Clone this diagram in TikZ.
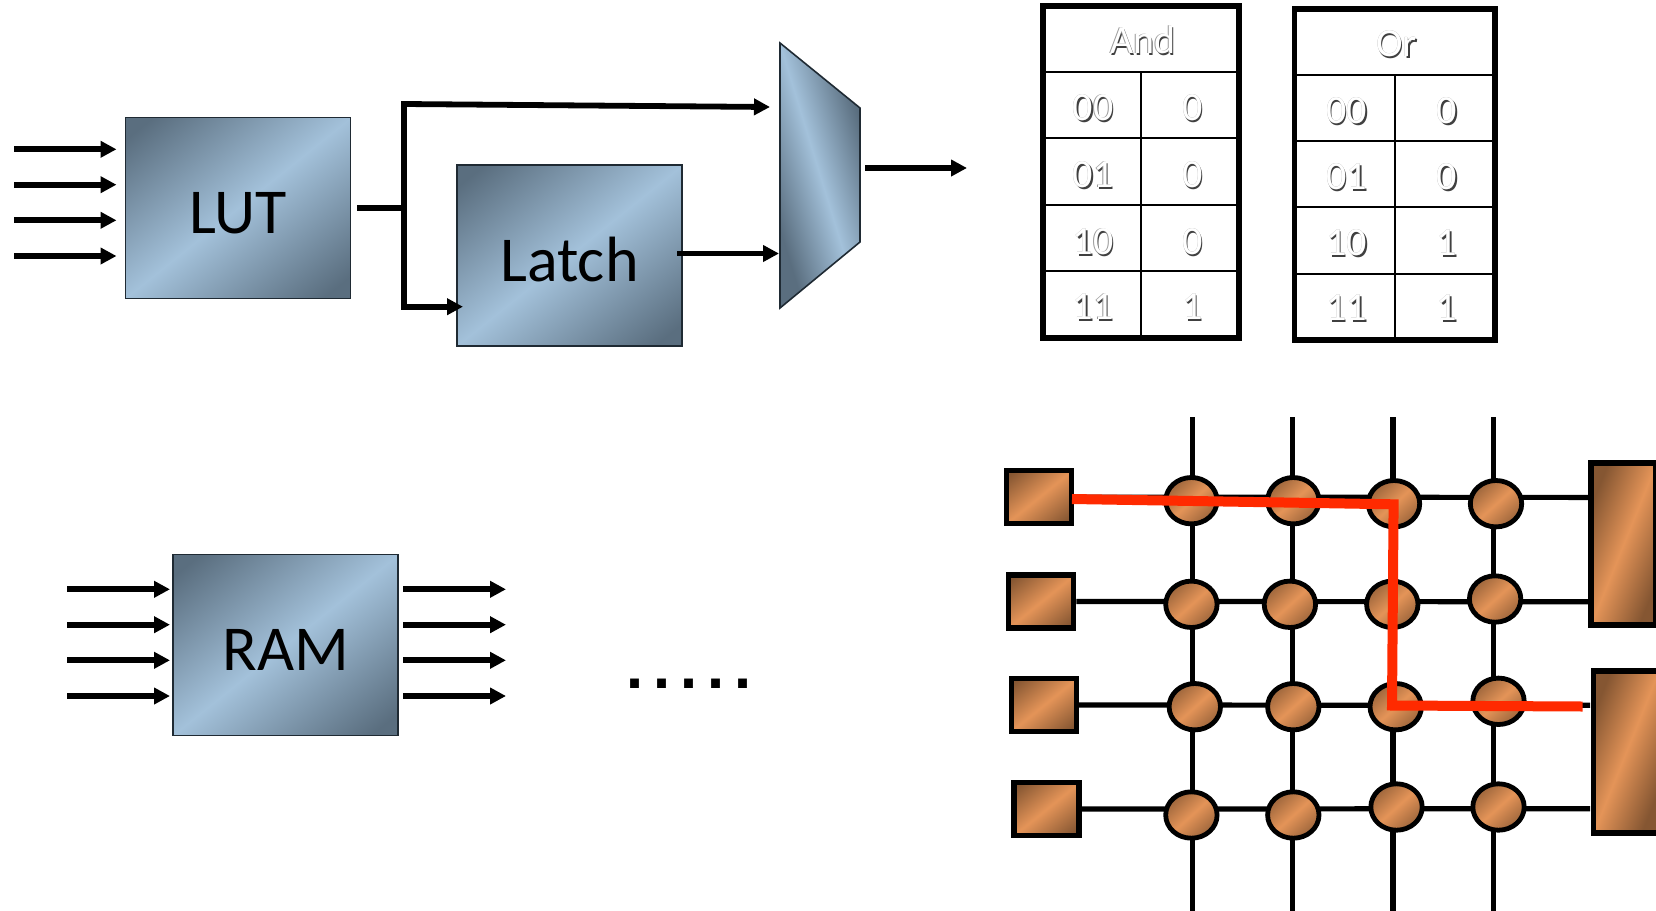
\documentclass[tikz,border=0pt]{standalone}
\usepackage{fontspec}
\setmainfont{Carlito}
\newfontfamily\dotfont[LetterSpace=16]{DejaVu Sans Bold}
\usetikzlibrary{arrows.meta,shapes.geometric}
\definecolor{bluedark}{HTML}{5A6E7F}
\definecolor{bluelight}{HTML}{A3C1DA}
\definecolor{cudark}{HTML}{855632}
\definecolor{culight}{HTML}{E49458}
\definecolor{redpath}{HTML}{FF2A00}
\definecolor{boxedge}{HTML}{1F2A33}
\pgfdeclareverticalshading{blueboxband}{100bp}{color(0bp)=(bluedark); color(19bp)=(bluedark); color(50bp)=(bluelight); color(81bp)=(bluedark); color(100bp)=(bluedark)}
\pgfdeclareverticalshading{bluemuxband}{100bp}{color(0bp)=(bluedark); color(28bp)=(bluedark); color(50bp)=(bluelight); color(72bp)=(bluedark); color(100bp)=(bluedark)}
\pgfdeclareverticalshading{cusquareband}{100bp}{color(0bp)=(cudark); color(19bp)=(cudark); color(50bp)=(culight); color(81bp)=(cudark); color(100bp)=(cudark)}
\pgfdeclareverticalshading{cutallband}{100bp}{color(0bp)=(cudark); color(26bp)=(cudark); color(50bp)=(culight); color(74bp)=(cudark); color(100bp)=(cudark)}
\pgfdeclareverticalshading{cuovalband}{100bp}{color(0bp)=(cudark); color(17bp)=(cudark); color(50bp)=(culight); color(83bp)=(cudark); color(100bp)=(cudark)}
\newcommand{\embossed}[1]{\rlap{\raisebox{-.7pt}{\hspace{.7pt}\color{black!75}#1}}\rlap{\raisebox{.2pt}{\hspace{-.2pt}\color{black!40}#1}}{\color{white}#1}}
\tikzset{
  sig/.style={draw=black,line width=2.9pt,-{Triangle[length=8pt,width=8pt]}},
  wire/.style={draw=black,line width=2.9pt},
  bluebox/.style={rectangle,draw=boxedge,line width=.8pt,inner sep=0pt,shading=blueboxband,shading angle=38.7,minimum width=112.5pt,minimum height=90.5pt,
    font=\fontsize{32}{32}\selectfont,text height=25.6pt,text depth=0pt,text=black},
  padl/.style={rectangle,draw=black,line width=2.6pt,inner sep=0pt,shading=cusquareband,shading angle=39,minimum width=32.5pt,minimum height=26.5pt},
  padr/.style={rectangle,draw=black,line width=2.6pt,inner sep=0pt,shading=cutallband,shading angle=68,minimum width=32.5pt,minimum height=81pt},
  sw/.style={ellipse,draw=black,line width=2.4pt,inner sep=0pt,shading=cuovalband,shading angle=42,minimum width=25.7pt,minimum height=23.2pt},
  gridline/.style={draw=black,line width=2.6pt},
  tablebox/.style={draw=black,line width=2.8pt},
  tablerule/.style={draw=black,line width=1pt},
  cell/.style={inner sep=0pt,font=\fontsize{20}{20}\selectfont,text height=12.9pt,text depth=0pt}
}
\begin{document}
\begin{tikzpicture}[x=0.5pt,y=-0.5pt]
\useasboundingbox (0,0) rectangle (1656,911);
\clip (0,0) rectangle (1656,911);
% blocks
\node[bluebox] (LUT) at (238,208) {LUT};
\node[bluebox] (Latch) at (569.5,255.5) {Latch};
\node[bluebox] (RAM) at (285.5,645) {RAM};
\draw[draw=boxedge,line width=.8pt,shading=bluemuxband,shading angle=107] (780,43) coordinate (muxa) -- (860,108) -- (860,242) -- (780,308) coordinate (muxb) -- cycle;
% LUT inputs
\foreach \n/\yy in {1/149.3,2/184.7,3/220.3,4/256}{
  \coordinate (li\n) at (14,\yy);
  \coordinate (lj\n) at (116.5,\yy);
  \path[sig] (li\n) -- (lj\n);
}
% RAM inputs and outputs
\foreach \n/\yy in {1/589.3,2/624.7,3/660.3,4/696}{
  \coordinate (ri\n) at (67.3,\yy);
  \coordinate (rj\n) at (170,\yy);
  \coordinate (ro\n) at (403.3,\yy);
  \coordinate (rp\n) at (506,\yy);
  \path[sig] (ri\n) -- (rj\n);
  \path[sig] (ro\n) -- (rp\n);
}
% LUT output network
\coordinate (lutout) at (357,208);
\coordinate (junction) at (404,208);
\coordinate (topc) at (404,104);
\coordinate (muxin) at (770,107);
\coordinate (botc) at (404,306.7);
\coordinate (latchin) at (463,306.7);
\coordinate (latchout) at (677,253.5);
\coordinate (muxinb) at (779,253.5);
\coordinate (muxout) at (865,168);
\coordinate (outend) at (967,168);
\path[wire] (lutout) -- (junction);
\path[sig,line join=miter] (junction) -- (topc) -- (muxin);
\path[sig,line join=miter] (junction) -- (botc) -- (latchin);
\path[sig] (latchout) -- (muxinb);
\path[sig] (muxout) -- (outend);
% dots
\node[inner sep=0pt,font=\dotfont\fontsize{25}{25}\selectfont] (dots) at (689,684) {.....};
% tables
\path[tablebox] (1043,6) rectangle (1239,338);
\foreach \yy in {72,138,204.7,271}{\path[tablerule] (1043,\yy) -- (1239,\yy);}
\path[tablerule] (1140.7,72) -- (1140.7,338);
\path[tablebox] (1294.5,9) rectangle (1495,340);
\foreach \yy in {75,141,207,273.7}{\path[tablerule] (1294.5,\yy) -- (1495,\yy);}
\path[tablerule] (1394.7,75) -- (1394.7,340);
\node[cell] (andh) at (1142.7,41) {\embossed{And}};
\node[cell] (orh) at (1396.7,44) {\embossed{Or}};
\foreach \n/\yy/\a/\b in {a/108/00/0,b/175/01/0,c/241.7/10/0,d/306.7/11/1}{
  \node[cell] (and\n l) at (1093,\yy) {\embossed{\a}};
  \node[cell] (and\n r) at (1192.7,\yy) {\embossed{\b}};
}
\foreach \n/\yy/\a/\b in {a/110.7/00/0,b/176.7/01/0,c/243/10/1,d/308/11/1}{
  \node[cell] (or\n l) at (1346.7,\yy) {\embossed{\a}};
  \node[cell] (or\n r) at (1447,\yy) {\embossed{\b}};
}
% pads
\node[padl] (S1) at (1038.9,497.2) {};
\node[padl] (S2) at (1041.3,601.5) {};
\node[padl] (S3) at (1043.8,705) {};
\node[padl] (S4) at (1046.5,809) {};
\node[padr] (R1) at (1623.5,544) {};
\node[padr] (R2) at (1626,752) {};
% grid wires
\coordinate (R1a) at (1590,497.4);
\coordinate (R1b) at (1590,601.7);
\coordinate (R2a) at (1590,705.3);
\coordinate (R2b) at (1590,808.7);
\path[gridline] (S1.east) -- (R1a);
\path[gridline] (S2.east) -- (R1b);
\path[gridline] (S3.east) -- (R2a);
\path[gridline] (S4.east) -- (R2b);
\foreach \n/\xx in {1/1192.2,2/1292.5,3/1393,4/1493.8}{
  \coordinate (vt\n) at (\xx,417);
  \coordinate (vb\n) at (\xx,911);
  \path[gridline] (vt\n) -- (vb\n);
}
% switches
\foreach \n/\xx/\yy in {
  11/1191.4/500.7,12/1293.3/500.7,13/1394/503.7,14/1496/503.7,
  21/1191.4/604.3,22/1289.9/604.3,23/1392.3/604.3,24/1495.1/599,
  31/1194.8/706.7,32/1293.3/706.7,33/1395.7/706.7,34/1498.5/701.3,
  41/1191.4/815,42/1293.3/815,43/1396.5/807,44/1498.5/807}{
  \node[sw] (c\n) at (\xx,\yy) {};
}
% red route
\coordinate (ra) at (1072,499);
\coordinate (rb) at (1393.6,504.3);
\coordinate (rc) at (1392,705.5);
\coordinate (rd) at (1582.6,706.5);
\draw[redpath,line width=5pt,line join=miter] (ra) -- (rb) -- (rc) -- (rd);
\end{tikzpicture}
\end{document}
